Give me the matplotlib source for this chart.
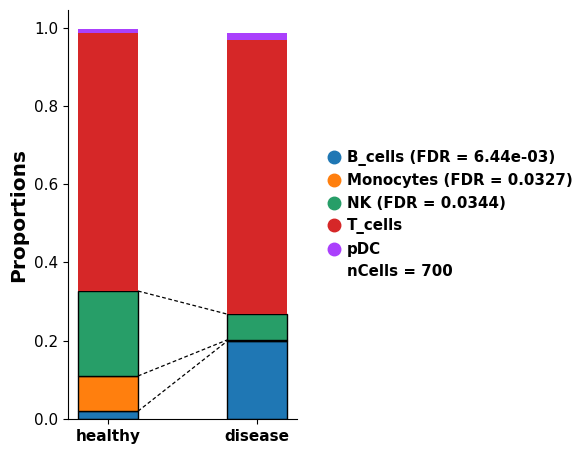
import matplotlib.pyplot as plt
from matplotlib.lines import Line2D
import numpy as np

# proportions per condition
conditions = ["healthy", "disease"]
cell_types = ["B_cells", "Monocytes", "NK", "T_cells", "pDC"]
healthy = [0.020, 0.090, 0.217, 0.660, 0.008]
disease = [0.199, 0.003, 0.066, 0.701, 0.018]
fdr = {"B_cells": "6.44e-03", "Monocytes": "0.0327", "NK": "0.0344"}
n_cells = 700
colors = ["#1f77b4", "#ff7f0e", "#279e68", "#d62728", "#aa40fc"]

props = np.array([healthy, disease])
x = np.arange(len(conditions))
width = 0.4

fig = plt.figure(figsize=(5.87, 4.54), dpi=100)
ax = fig.add_axes([0.116, 0.077, 0.39, 0.901])

bottom = np.zeros(len(conditions))
for i, ct in enumerate(cell_types):
    sig = ct in fdr
    ax.bar(x, props[:, i], width, bottom=bottom, color=colors[i],
           edgecolor="black" if sig else "none", linewidth=1.0 if sig else 0)
    bottom = bottom + props[:, i]
    if sig:
        ax.plot([x[0] + width / 2, x[1] - width / 2], [bottom[0], bottom[1]],
                "k--", lw=0.9, dashes=(3, 2))

ax.set_xticks(x)
ax.set_xticklabels(conditions, fontsize=11, fontweight="bold")
ax.tick_params(axis="y", labelsize=11)
ax.set_ylabel("Proportions", fontsize=14.5, fontweight="bold")
ax.spines["top"].set_visible(False)
ax.spines["right"].set_visible(False)

handles = []
labels = []
for i, ct in enumerate(cell_types):
    handles.append(Line2D([], [], marker="o", ls="none", color=colors[i], markersize=9))
    labels.append(f"{ct} (FDR = {fdr[ct]})" if ct in fdr else ct)
handles.append(Line2D([], [], ls="none"))
labels.append(f"nCells = {n_cells}")
ax.legend(handles, labels, loc="center left", bbox_to_anchor=(1.076, 0.5),
          frameon=False, handlelength=0.8, handletextpad=0.45,
          prop={"size": 10.8, "weight": "bold"})

plt.savefig("out.png", dpi=100)
